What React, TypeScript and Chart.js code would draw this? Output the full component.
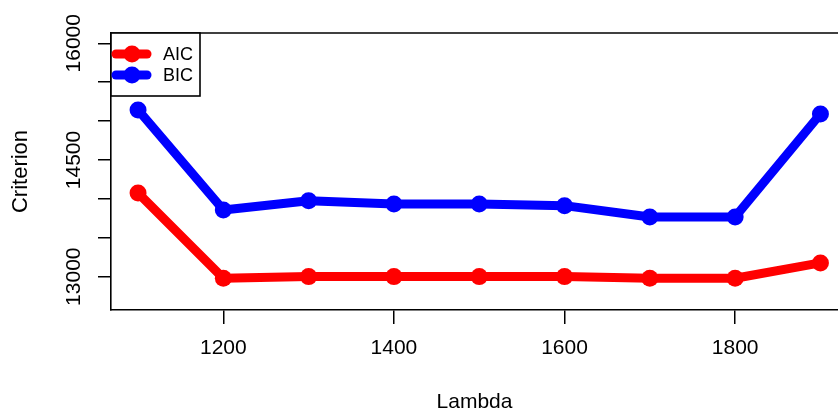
import { useEffect, useRef } from "react";
import { Chart, registerables } from "chart.js";

Chart.register(...registerables);

// Penalty parameter values and the information criteria computed at each
const lambdas = [1100, 1200, 1300, 1400, 1500, 1600, 1700, 1800, 1900];
const aicValues = [14076, 12980, 13001, 13001, 13001, 13001, 12980, 12980, 13177];
const bicValues = [15143, 13858, 13977, 13935, 13935, 13913, 13768, 13768, 15091];

const seriesNames = ["AIC", "BIC"];

// Axis ticks (only some of the y ticks carry a label)
const xTickValues = [1200, 1400, 1600, 1800];
const yTickValues = [13000, 13500, 14000, 14500, 15000, 15500, 16000];
const yTickLabels = ["13000", "", "", "14500", "", "", "16000"];

const xTitle = "Lambda";
const yTitle = "Criterion";

const RED = "#ff0000";
const BLUE = "#0000ff";
const FONT = "'Liberation Sans', Arial, Helvetica, sans-serif";

// Top edge of the plot box plus an R-style legend in the top-left corner
const boxAndLegend = {
  id: "boxAndLegend",
  afterDraw(chart: any) {
    const { ctx, chartArea } = chart;
    const { left, top, right } = chartArea;
    ctx.save();
    ctx.strokeStyle = "#000";
    ctx.lineWidth = 1.6;
    ctx.beginPath();
    ctx.moveTo(left, top);
    ctx.lineTo(right, top);
    ctx.stroke();

    const w = 89;
    const h = 63;
    ctx.fillStyle = "#fff";
    ctx.fillRect(left, top, w, h);
    ctx.strokeRect(left, top, w, h);

    const colors = [RED, BLUE];
    seriesNames.forEach((name, i) => {
      const y = top + 21 + i * 21;
      ctx.strokeStyle = colors[i];
      ctx.lineWidth = 9;
      ctx.lineCap = "round";
      ctx.beginPath();
      ctx.moveTo(left + 5, y);
      ctx.lineTo(left + 36, y);
      ctx.stroke();
      ctx.fillStyle = colors[i];
      ctx.beginPath();
      ctx.arc(left + 21, y, 8.5, 0, Math.PI * 2);
      ctx.fill();
      ctx.fillStyle = "#000";
      ctx.font = `18px ${FONT}`;
      ctx.textAlign = "left";
      ctx.textBaseline = "middle";
      ctx.fillText(name, left + 52, y + 1);
    });
    ctx.restore();
  },
};

export default function App() {
  const canvasRef = useRef<HTMLCanvasElement | null>(null);

  useEffect(() => {
    const canvas = canvasRef.current;
    if (!canvas) return;

    const lineStyle = {
      borderWidth: 9,
      pointRadius: 8.5,
      pointHoverRadius: 8.5,
      pointBorderWidth: 0,
      borderCapStyle: "round" as const,
      borderJoinStyle: "round" as const,
      tension: 0,
    };

    const chart = new Chart(canvas, {
      type: "line",
      data: {
        datasets: [
          {
            label: seriesNames[0],
            data: lambdas.map((x, i) => ({ x, y: aicValues[i] })),
            borderColor: RED,
            backgroundColor: RED,
            pointBackgroundColor: RED,
            ...lineStyle,
          },
          {
            label: seriesNames[1],
            data: lambdas.map((x, i) => ({ x, y: bicValues[i] })),
            borderColor: BLUE,
            backgroundColor: BLUE,
            pointBackgroundColor: BLUE,
            ...lineStyle,
          },
        ],
      },
      options: {
        responsive: false,
        animation: false,
        devicePixelRatio: 1,
        layout: { autoPadding: false, padding: { top: 33, right: 0, left: 0, bottom: 0 } },
        plugins: {
          legend: { display: false },
          tooltip: { enabled: false },
        },
        scales: {
          x: {
            type: "linear",
            min: 1068.3,
            max: 1920.6,
            afterBuildTicks: (scale: any) => {
              scale.ticks = xTickValues.map((value) => ({ value }));
            },
            afterFit: (scale: any) => {
              scale.height = 102;
              scale.paddingLeft = 0;
              scale.paddingRight = 0;
            },
            grid: {
              drawOnChartArea: false,
              drawTicks: true,
              tickLength: 14,
              color: "#000",
              lineWidth: 1.5,
            },
            border: { display: true, color: "#000", width: 1.6 },
            ticks: {
              autoSkip: false,
              maxRotation: 0,
              padding: 12,
              color: "#000",
              font: { family: FONT, size: 21 },
              callback: (v: any) => String(v),
            },
            title: {
              display: true,
              text: xTitle,
              color: "#000",
              font: { family: FONT, size: 21, lineHeight: 0.9 },
              padding: { top: 0, bottom: 0 },
            },
          },
          y: {
            type: "linear",
            min: 12572,
            max: 16132,
            afterBuildTicks: (scale: any) => {
              scale.ticks = yTickValues.map((value) => ({ value }));
            },
            afterFit: (scale: any) => {
              scale.width = 111;
              scale.paddingTop = 0;
              scale.paddingBottom = 0;
            },
            grid: {
              drawOnChartArea: false,
              drawTicks: true,
              tickLength: 13,
              color: "#000",
              lineWidth: 1.5,
            },
            border: { display: true, color: "#000", width: 1.6 },
            ticks: {
              autoSkip: false,
              minRotation: 90,
              maxRotation: 90,
              crossAlign: "center",
              padding: -5,
              color: "#000",
              font: { family: FONT, size: 21 },
              callback: (v: any) => {
                const i = yTickValues.indexOf(Number(v));
                return i >= 0 ? yTickLabels[i] : "";
              },
            },
            title: {
              display: true,
              text: yTitle,
              color: "#000",
              font: { family: FONT, size: 22 },
              padding: { top: 8, bottom: 0 },
            },
          },
        },
      },
      plugins: [boxAndLegend],
    });

    return () => chart.destroy();
  }, []);

  return (
    <div
      style={{
        position: "fixed",
        left: 0,
        top: 0,
        width: 838,
        height: 412,
        background: "#fff",
        overflow: "hidden",
      }}
    >
      <canvas ref={canvasRef} width={838} height={412} style={{ display: "block", width: 838, height: 412 }} />
    </div>
  );
}
